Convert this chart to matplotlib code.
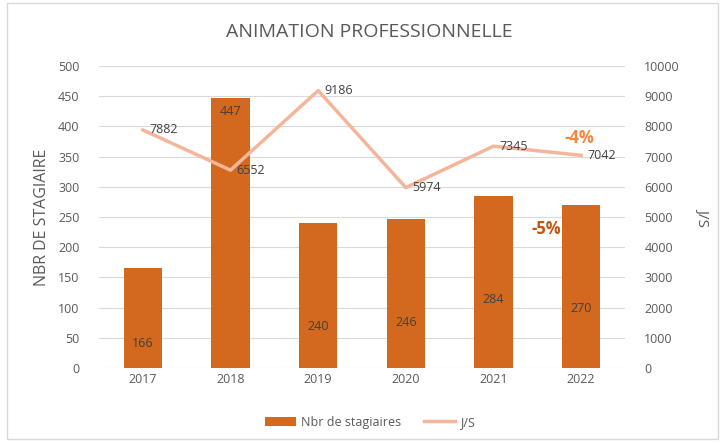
import matplotlib
matplotlib.use("Agg")
import matplotlib.pyplot as plt
from matplotlib.patches import Rectangle

# data
years = ["2017", "2018", "2019", "2020", "2021", "2022"]
stagiaires = [166, 447, 240, 246, 284, 270]
js = [7882, 6552, 9186, 5974, 7345, 7042]
# where the bar labels sit (left-axis units)
bar_label_y = [41, 424, 68, 75, 113, 99]

plt.rcParams['font.family'] = ['Open Sans', 'DejaVu Sans']

bar_color = "#D2691E"
line_color = "#F4B69A"
grey = "#595959"

fig = plt.figure(figsize=(7.25, 4.43), dpi=100)
fig.patches.append(Rectangle((0.010, 0.008), 0.980, 0.985, transform=fig.transFigure,
                             fill=False, edgecolor="#D9D9D9", linewidth=1))
ax = fig.add_axes([0.1366, 0.1693, 0.7254, 0.6817])
x = list(range(len(years)))

ax.set_axisbelow(True)
ax.grid(axis="y", color="#D9D9D9", linewidth=0.8)
bars = ax.bar(x, stagiaires, width=0.44, color=bar_color, label="Nbr de stagiaires", zorder=2)
for xi, v, ly in zip(x, stagiaires, bar_label_y):
    ax.text(xi, ly, str(v), ha="center", va="center", fontsize=9, color="#404040", zorder=5)

ax.set_xlim(-0.5, len(years) - 0.5)
ax.set_ylim(0, 500)
ax.set_yticks(range(0, 501, 50))
ax.set_xticks(x)
ax.set_xticklabels(years)
ax.set_ylabel("NBR DE STAGIAIRE", fontsize=11.5, color=grey, labelpad=6)
for s in ax.spines.values():
    s.set_visible(False)
ax.tick_params(axis="both", length=0, labelsize=9, colors=grey)
ax.tick_params(axis="y", pad=14)

ax2 = ax.twinx()
ax2.plot(x, js, color=line_color, linewidth=2.5, label="J/S", zorder=3)
for xi, v in zip(x, js):
    ax2.text(xi + 0.07, v, str(v), ha="left", va="center", fontsize=9, color="#404040")
ax2.set_ylim(0, 10000)
ax2.set_yticks(range(0, 10001, 1000))
for s in ax2.spines.values():
    s.set_visible(False)
ax2.tick_params(axis="y", length=0, labelsize=9, colors=grey, pad=14)
ax2.set_ylabel("J/S", fontsize=11, color=grey, rotation=270, labelpad=22)

ax2.text(4.98, 7600, "-4%", ha="center", va="center", fontsize=12, fontweight="bold", color="#F4873E")
ax2.text(4.6, 4600, "-5%", ha="center", va="center", fontsize=12, fontweight="bold", color="#C0560F")

fig.text(0.51, 0.928, "ANIMATION PROFESSIONNELLE", ha="center", va="center", fontsize=14, color=grey)

h1, l1 = ax.get_legend_handles_labels()
h2, l2 = ax2.get_legend_handles_labels()
fig.legend(h1 + h2, l1 + l2, loc="center", bbox_to_anchor=(0.51, 0.047), ncol=2, frameon=False,
           fontsize=9, labelcolor=grey, handlelength=2.5, handletextpad=0.4, columnspacing=1.8)

fig.savefig("out.png", dpi=100)
